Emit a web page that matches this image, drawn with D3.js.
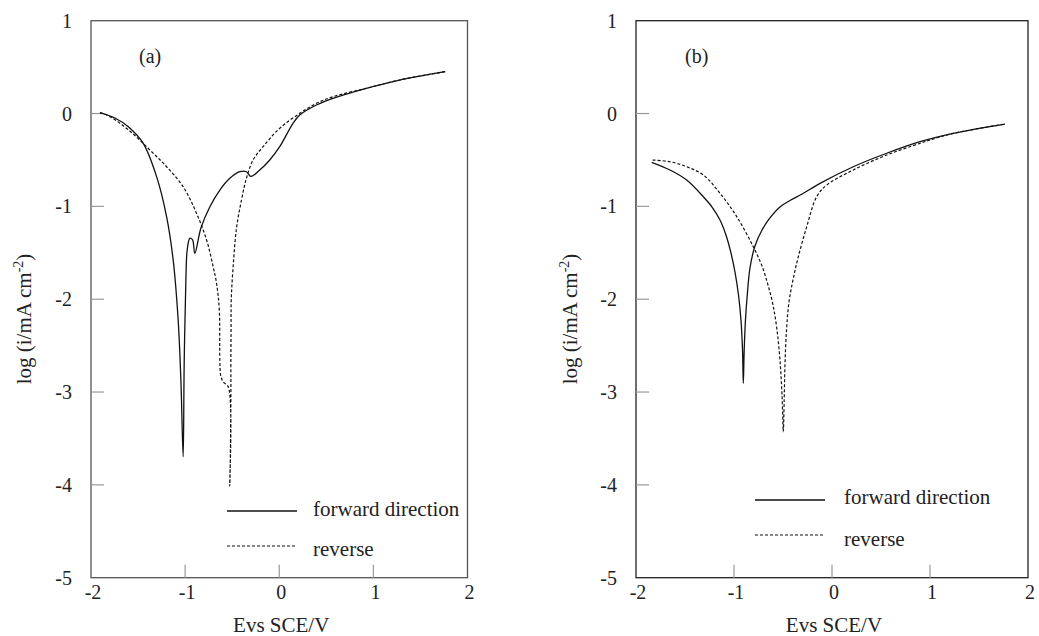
<!DOCTYPE html>
<html>
<head>
<meta charset="utf-8">
<script src="https://cdn.jsdelivr.net/npm/d3@7"></script>
<style>
  html, body { margin: 0; padding: 0; background: #fff; }
  svg { display: block; }
  svg text { font-family: 'Liberation Serif', 'Times New Roman', Times, 'DejaVu Serif', serif; }
</style>
</head>
<body>
<svg id="chart" width="1039" height="636"></svg>
<script>
// ---------------- data ----------------
const xTicks = [-2, -1, 0, 1, 2];
const yTicks = [1, 0, -1, -2, -3, -4, -5];
const panelLabels = ["(a)", "(b)"];
const legendLabels = ["forward direction", "reverse"];
const xTitle = "Evs SCE/V";

// panel (a) forward direction
const aForwardE = [-1.905, -1.746, -1.604, -1.445, -1.303, -1.197, -1.127, -1.074, -1.045, -1.021,
  -1.010, -0.992, -0.978, -0.950, -0.921, -0.897, -0.832, -0.737, -0.631, -0.525, -0.419, -0.348,
  -0.302, -0.207, -0.101, 0.005, 0.146, 0.218, 0.395, 0.571, 0.925, 1.279, 1.763];
const aForwardLogI = [0.01, -0.048, -0.142, -0.321, -0.680, -1.111, -1.578, -2.224, -2.871, -3.697,
  -2.687, -1.793, -1.470, -1.344, -1.362, -1.506, -1.233, -1.004, -0.824, -0.698, -0.627, -0.627,
  -0.678, -0.608, -0.500, -0.357, -0.105, -0.016, 0.092, 0.164, 0.272, 0.361, 0.451];

// panel (a) reverse
const aReverseE = [-1.905, -1.798, -1.586, -1.374, -1.197, -1.021, -0.879, -0.772, -0.706, -0.666,
  -0.637, -0.631, -0.621, -0.594, -0.541, -0.526, -0.514, -0.514, -0.512, -0.510, -0.490, -0.454,
  -0.401, -0.348, -0.278, -0.172, 0.005, 0.218, 0.395, 0.571, 0.925, 1.279, 1.763];
const aReverseLogI = [0.01, -0.034, -0.190, -0.393, -0.573, -0.788, -1.075, -1.362, -1.632, -1.829,
  -2.116, -2.655, -2.827, -2.892, -2.946, -4.012, -3.086, -2.700, -2.332, -2.009, -1.650, -1.233,
  -0.931, -0.695, -0.501, -0.357, -0.159, 0.002, 0.110, 0.181, 0.272, 0.361, 0.451];

// panel (b) forward direction
const bForwardE = [-1.840, -1.653, -1.483, -1.313, -1.224, -1.143, -1.082, -1.031, -0.990, -0.954,
  -0.929, -0.913, -0.905, -0.896, -0.883, -0.867, -0.837, -0.786, -0.714, -0.633, -0.531, -0.429,
  -0.309, -0.122, 0.217, 0.558, 0.898, 1.238, 1.765];
const bForwardLogI = [-0.525, -0.608, -0.716, -0.896, -1.007, -1.146, -1.308, -1.502, -1.707, -1.955,
  -2.224, -2.547, -2.906, -2.547, -2.224, -1.987, -1.664, -1.427, -1.255, -1.125, -1.007, -0.937,
  -0.870, -0.752, -0.573, -0.428, -0.303, -0.213, -0.113];

// panel (b) reverse
const bReverseE = [-1.830, -1.653, -1.483, -1.313, -1.143, -0.972, -0.803, -0.714, -0.653, -0.602,
  -0.561, -0.531, -0.510, -0.497, -0.488, -0.480, -0.464, -0.439, -0.398, -0.347, -0.258, -0.156,
  -0.054, 0.217, 0.558, 0.898, 1.0, 1.238, 1.765];
const bReverseLogI = [-0.501, -0.519, -0.573, -0.662, -0.859, -1.111, -1.435, -1.643, -1.847, -2.063,
  -2.332, -2.655, -3.032, -3.428, -3.086, -2.709, -2.332, -2.030, -1.793, -1.556, -1.219, -0.896,
  -0.770, -0.608, -0.447, -0.321, -0.285, -0.213, -0.113];

// ---------------- layout ----------------
const svg = d3.select("#chart");
const plotTop = 20.7, plotBottom = 577.7;
const panels = [
  { label: panelLabels[0], left: 91, right: 467.5, frame: "#555",
    fwdE: aForwardE, fwdI: aForwardLogI, revE: aReverseE, revI: aReverseLogI,
    labelPos: [139, 63], legX: [227, 297, 313], legY: [511, 515.5, 546, 556],
    yTitleX: 31 },
  { label: panelLabels[1], left: 636, right: 1028, frame: "#222",
    fwdE: bForwardE, fwdI: bForwardLogI, revE: bReverseE, revI: bReverseLogI,
    labelPos: [685, 63], legX: [755, 825, 844], legY: [500, 503.5, 535, 546],
    yTitleX: 577 }
];

panels.forEach(p => {
  const x = d3.scaleLinear().domain([-2, 2]).range([p.left, p.right]);
  const y = d3.scaleLinear().domain([-5, 1]).range([plotBottom, plotTop]);
  const g = svg.append("g");

  // frame
  g.append("rect")
    .attr("x", x(-2)).attr("y", y(1))
    .attr("width", x(2) - x(-2)).attr("height", y(-5) - y(1))
    .attr("fill", "none").attr("stroke", p.frame).attr("stroke-width", 1.3);

  // y ticks (inward)
  g.selectAll(".yt").data(yTicks.filter(d => d > -5 && d < 1)).enter().append("line")
    .attr("x1", x(-2)).attr("x2", x(-2) + 13)
    .attr("y1", d => y(d)).attr("y2", d => y(d))
    .attr("stroke", "#999").attr("stroke-width", 1.2);
  g.selectAll(".yl").data(yTicks).enter().append("text")
    .attr("x", x(-2) - 19).attr("y", d => y(d) + 7)
    .attr("text-anchor", "end").attr("font-size", 20).attr("fill", "#222")
    .text(d => d);

  // x ticks (inward)
  g.selectAll(".xt").data(xTicks.filter(d => d > -2 && d < 2)).enter().append("line")
    .attr("x1", d => x(d)).attr("x2", d => x(d))
    .attr("y1", y(-5)).attr("y2", y(-5) - 13)
    .attr("stroke", "#999").attr("stroke-width", 1.2);
  g.selectAll(".xl").data(xTicks).enter().append("text")
    .attr("x", d => x(d) + 2).attr("y", 598.5)
    .attr("text-anchor", "middle").attr("font-size", 20).attr("fill", "#222")
    .text(d => d);

  // axis titles
  g.append("text")
    .attr("x", (x(-2) + x(2)) / 2 + 2).attr("y", 631.5)
    .attr("text-anchor", "middle").attr("font-size", 21).attr("fill", "#222")
    .text(xTitle);
  const yt = g.append("text")
    .attr("transform", `translate(${p.yTitleX},${319}) rotate(-90)`)
    .attr("text-anchor", "middle").attr("font-size", 21).attr("fill", "#222");
  yt.append("tspan").text("log (i/mA cm");
  yt.append("tspan").attr("font-size", 14).attr("dy", -8).text("-2");
  yt.append("tspan").attr("dy", 8).text(")");

  // panel label
  g.append("text").attr("x", p.labelPos[0]).attr("y", p.labelPos[1])
    .attr("font-size", 20).attr("fill", "#222").text(p.label);

  // curves
  const line = d3.line().x(d => x(d[0])).y(d => y(d[1]))
    .curve(d3.curveCatmullRom.alpha(0.5));
  g.append("path")
    .datum(d3.zip(p.revE, p.revI))
    .attr("d", line).attr("fill", "none")
    .attr("stroke", "#111").attr("stroke-width", 1.2)
    .attr("stroke-dasharray", "3,2");
  g.append("path")
    .datum(d3.zip(p.fwdE, p.fwdI))
    .attr("d", line).attr("fill", "none")
    .attr("stroke", "#111").attr("stroke-width", 1.3);

  // legend
  g.append("line").attr("x1", p.legX[0]).attr("x2", p.legX[1])
    .attr("y1", p.legY[0]).attr("y2", p.legY[0])
    .attr("stroke", "#111").attr("stroke-width", 1.3);
  g.append("text").attr("x", p.legX[2]).attr("y", p.legY[1])
    .attr("font-size", 21).attr("fill", "#222").text(legendLabels[0]);
  g.append("line").attr("x1", p.legX[0]).attr("x2", p.legX[1])
    .attr("y1", p.legY[2]).attr("y2", p.legY[2])
    .attr("stroke", "#111").attr("stroke-width", 1.2).attr("stroke-dasharray", "3,2");
  g.append("text").attr("x", p.legX[2]).attr("y", p.legY[3])
    .attr("font-size", 21).attr("fill", "#222").text(legendLabels[1]);
});
</script>
</body>
</html>
